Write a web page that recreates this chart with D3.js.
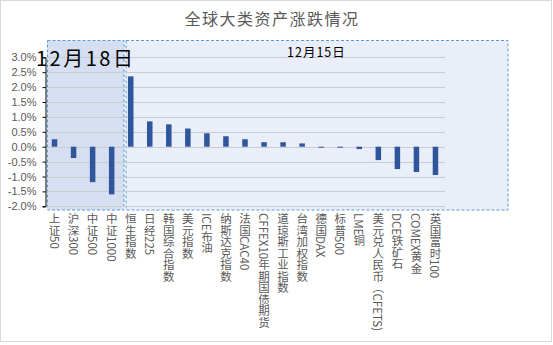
<!DOCTYPE html>
<html><head><meta charset="utf-8">
<script src="https://cdn.jsdelivr.net/npm/d3@7"></script>
<style>
html,body{margin:0;padding:0;background:#fff;}
svg{display:block;font-family:"Noto Sans CJK SC","Microsoft YaHei",sans-serif;}
</style></head>
<body>
<svg id="c" width="553" height="345"></svg>
<script>
const categories = ["上证50","沪深300","中证500","中证1000","恒生指数","日经225","韩国综合指数","美元指数","ICE布油","纳斯达克指数","法国CAC40","CFFEX10年期国债期货","道琼斯工业指数","台湾加权指数","德国DAX","标普500","LME铜","美元兑人民币（CFETS)","DCE铁矿石","COMEX黄金","英国富时100"];
const values = [0.25,-0.38,-1.19,-1.60,2.36,0.85,0.75,0.61,0.45,0.35,0.25,0.15,0.15,0.11,-0.03,-0.03,-0.08,-0.45,-0.75,-0.85,-0.95];
const yTicks = [3.0,2.5,2.0,1.5,1.0,0.5,0.0,-0.5,-1.0,-1.5,-2.0];
const groupLabels = ["12月18日","12月15日"];

const svg = d3.select("#c");
const m = {l:45};

// outer border
svg.append("rect").attr("x",0.5).attr("y",0.5).attr("width",551).attr("height",341)
  .attr("fill","#fff").attr("stroke","#d9d9d9");

const x = d3.scaleBand().domain(categories).range([45, 445]).paddingInner(0).paddingOuter(0);
const y = d3.scaleLinear().domain([-2.0,3.0]).range([206.3,57.3]);

// group boxes
svg.append("rect").attr("x",126).attr("y",40.5).attr("width",382).attr("height",169.5)
  .attr("fill","#e9eef8").attr("stroke","#5b9bd5").attr("stroke-dasharray","3,2");
svg.append("rect").attr("x",47.5).attr("y",40.5).attr("width",76.5).attr("height",169.5)
  .attr("fill","#d6dff1").attr("stroke","#5b9bd5").attr("stroke-dasharray","3,2");

// gridlines
svg.append("g").selectAll("line").data(yTicks).join("line")
  .attr("x1",m.l).attr("x2",x.range()[1])
  .attr("y1",d=>Math.round(y(d))+0.5).attr("y2",d=>Math.round(y(d))+0.5)
  .attr("stroke","#c9ccd3").attr("stroke-width",1);

// bars
const bw = 5.5;
svg.append("g").selectAll("rect").data(values).join("rect")
  .attr("x",(d,i)=>x(categories[i])+x.bandwidth()/2-bw/2)
  .attr("width",bw)
  .attr("y",d=>Math.min(y(d),y(0)))
  .attr("height",d=>Math.max(1,Math.abs(y(d)-y(0))))
  .attr("fill","#2f559b");

// y axis
const yAxis = d3.axisLeft(y).tickValues(yTicks).tickSize(3).tickFormat(d=>d.toFixed(1)+"%");
const ga = svg.append("g").attr("transform",`translate(${m.l+0.5},0)`).call(yAxis);
ga.select(".domain").attr("stroke","#000");
ga.selectAll(".tick line").attr("stroke","#000");
ga.selectAll(".tick text").attr("fill","#595959").attr("font-size",11)
  .attr("font-family","Liberation Sans, Arial, sans-serif").attr("x",-9);

// x labels (vertical)
svg.append("g").selectAll("text").data(categories).join("text")
  .attr("x",(d)=>x(d)+x.bandwidth()/2)
  .attr("y",213)
  .attr("fill","#595959").attr("font-size",11.5)
  .style("writing-mode","vertical-rl")
  .attr("font-family","Noto Sans CJK SC, sans-serif")
  .text(d=>d);

// title
svg.append("text").attr("x",272).attr("y",25).attr("text-anchor","middle")
  .attr("font-size",16).attr("letter-spacing",1.5).attr("fill","#595959").text("全球大类资产涨跌情况");

// group labels
svg.append("text").attr("x",36).attr("y",66).attr("font-size",20).attr("letter-spacing",2.5).attr("fill","#000").text(groupLabels[0]);
svg.append("text").attr("x",287).attr("y",57).attr("font-size",12.5).attr("letter-spacing",1).attr("fill","#000").text(groupLabels[1]);
</script>
</body></html>
